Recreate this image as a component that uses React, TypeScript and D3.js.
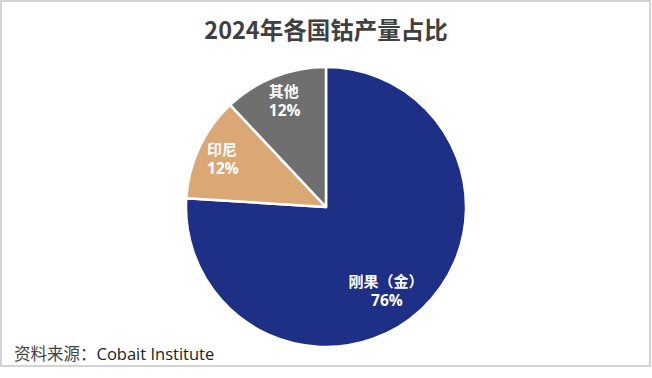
import React from "react";
import * as d3 from "d3";

const categories = ["刚果（金）", "印尼", "其他"];
const shares = [76, 12, 12];
const colors = ["#1d3086", "#dba774", "#6f6f6f"];
const labelDx = [-14, 0, 0];
const labelDy = [4, 0, 0];
const labelR = [108, 115, 115];

const W = 652;
const H = 378;
const cx = 326;
const cy = 207;
const R = 140;

export default function App() {
  const pie = d3.pie<number>().sort(null).value((d) => d)(shares);
  const arc = d3.arc<d3.PieArcDatum<number>>().innerRadius(0).outerRadius(R);
  const font = "'Noto Sans CJK SC', 'Noto Sans', sans-serif";
  const numFont = "'Open Sans', 'Noto Sans', sans-serif";
  return (
    <svg width={W} height={H} style={{ position: "absolute", left: 0, top: 0 }}>
      <rect x={0} y={0} width={W} height={H} fill="#fff" />
      <rect x={1} y={1} width={649} height={365} fill="#fff" stroke="#c6c6c6" strokeWidth={1.5} />
      <text x={cx} y={39} textAnchor="middle" fontFamily={font} fontWeight={700} fontSize={23.5} fill="#3f3f3f">
        2024年各国钴产量占比
      </text>
      <g transform={`translate(${cx},${cy})`}>
        {pie.map((p, i) => (
          <path key={i} d={arc(p) || ""} fill={colors[i]} stroke="#fff" strokeWidth={2.5} strokeLinejoin="round" />
        ))}
        {pie.map((p, i) => {
          const a = (p.startAngle + p.endAngle) / 2;
          const x = Math.sin(a) * labelR[i] + labelDx[i];
          const y = -Math.cos(a) * labelR[i] + labelDy[i];
          return (
            <g key={"l" + i}>
              <text x={x} y={y - 3} textAnchor="middle" fontFamily={font} fontWeight={700} fontSize={15} fill="#fff">
                {categories[i]}
              </text>
              <text x={x + 1} y={y + 16} textAnchor="middle" fontFamily={numFont} fontWeight={700} fontSize={15.5} fill="#fff">
                {shares[i]}%
              </text>
            </g>
          );
        })}
      </g>
      <text x={14} y={360} fontFamily={font} fontSize={16.5} fill="#222">
        <tspan fill="#444">资料来源：</tspan>
        <tspan fontFamily={numFont}>Cobait Institute</tspan>
      </text>
    </svg>
  );
}
